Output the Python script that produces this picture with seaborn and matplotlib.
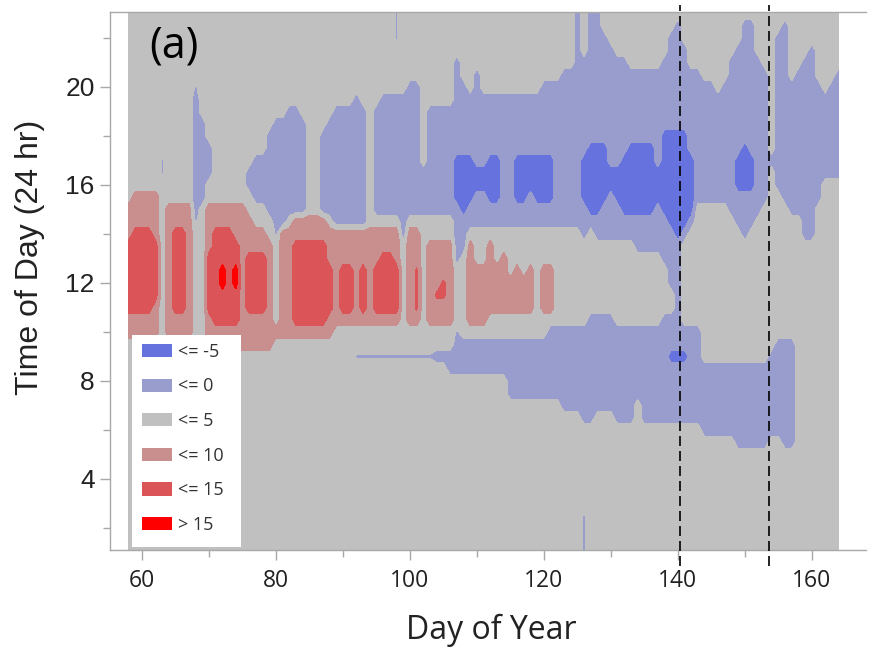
import numpy as np
import matplotlib
matplotlib.use("Agg")
import matplotlib.pyplot as plt
from matplotlib.patches import Patch, Rectangle
import seaborn as sns

# Grid: one column per day of year, one row per half hour
days = np.arange(58, 165)
hours = np.arange(0.5, 23.51, 0.5)

# Contour classes and their representative temperature difference
levels = [-50, -5, 0, 5, 10, 15, 50]
class_labels = ["<= -5", "<= 0", "<= 5", "<= 10", "<= 15", "> 15"]
class_colors = ["#6673de", "#999dce", "#c0c0c0", "#c98f8f", "#da5458", "#ff0000"]
class_values = {"B": -7.5, "b": -2.5, "t": -0.5, ".": 2.5,
                "r": 7.5, "q": 10.8, "R": 12.5, "X": 17.5}

# Per hour row: day spans whose class differs from the "<= 5" background
cells = {
    23.5: "98:t",
    23.0: "98:t 125:b 127-128:b",
    22.5: "98:t 125:b 127-128:b 140:b 150-151:b 156:b",
    22.0: "98:t 125:b 127-129:b 139-140:b 150-151:b 155-156:b",
    21.5: "125:b 127-130:b 139-141:b 149-151:b 155-156:b 160:b",
    21.0: "107:b 125-132:b 138-141:b 148-152:b 155-156:b 159-160:b",
    20.5: "107:b 110:b 123-143:b 148-153:b 155-156:b 158-160:b 164:b",
    20.0: "68:t 100-101:b 107-108:b 110:b 120-145:b 147-153:b 155-161:b 163-164:b",
    19.5: "68:b 92:b 96-101:b 107-153:b 155-164:b",
    19.0: "68:b 82-83:b 89-93:b 95-101:b 103-153:b 155-164:b",
    18.5: "68-69:b 80-84:b 88-93:b 95-101:b 103-153:b 155-164:b",
    18.0: "68-69:b 79-84:b 87-93:b 95-101:b 103-153:b 155-164:b 138-141:B",
    17.5: "68-70:b 79-84:b 87-93:b 95-101:b 103-153:b 155-164:b "
          "127-129:B 133-136:B 138-141:B 150:B",
    17.0: "63:t 68-70:b 77-84:b 87-93:b 95-101:b 103-164:b 107-109:B 112-113:B "
          "116-121:B 126-129:B 132-136:B 138-142:B 149-151:B",
    16.5: "63:t 68-70:b 76-84:b 87-93:b 95-153:b 155-164:b 107-113:B 116-121:B "
          "126-142:B 149-151:B",
    16.0: "68-69:b 76-84:b 87-93:b 95-153:b 155-161:b 107-113:B 116-121:B "
          "126-142:B 149-151:B",
    15.5: "68-69:b 77-84:b 87-93:b 95-153:b 156-161:b 107-109:B 112-113:B "
          "116-117:B 119-121:B 126-129:B 131-142:B 59-62:r",
    15.0: "68:b 79-84:b 87-93:b 95-142:b 148-152:b 157-160:b 108:B 127-128:B "
          "132-136:B 138-142:B 58-62:r 64-67:r 70-75:r",
    14.5: "68:t 80-81:b 89-93:b 99:b 107-142:b 149-151:b 159-160:b 139-141:B "
          "58-62:r 64-67:r 70-76:r 83-87:r",
    14.0: "80:t 99:b 107-108:b 126:b 128-141:b 150:b 159-160:b 140:B "
          "58-62:r 64-67:r 70-78:r 81-98:r 100-101:r 59-61:R 65-66:R 71-73:R",
    13.5: "107-108:b 134-140:b 58-62:r 64-67:r 70-79:r 81-98:r 100-101:r "
          "103-106:r 109:r 112:r 58-62:R 65-66:R 71-74:R 83-87:R",
    13.0: "107:b 138-140:b 58-62:r 64-67:r 70-79:r 81-98:r 100-101:r 103-106:r "
          "109:r 112:r 114:r 58-62:R 65-66:R 70-74:R 76-78:R 83-87:R 96-97:R",
    12.5: "139-140:b 58-62:r 64-67:r 70-79:r 81-98:r 100-101:r 103-106:r "
          "109-114:r 116:r 118:r 120-121:r 58-62:R 65-66:R 70-74:R 76-78:R "
          "83-88:R 90-91:R 93:R 95-98:R 72:X 74:X 101:q",
    12.0: "139-140:b 58-62:r 64-67:r 70-79:r 81-98:r 100-101:r 103-106:r "
          "109-118:r 120-121:r 58-62:R 65-66:R 70-74:R 76-78:R 83-88:R 90-91:R "
          "93:R 95-98:R 72:X 74:X 101:q 105:q",
    11.5: "140:b 58-62:r 64-67:r 70-79:r 81-98:r 100-101:r 103-106:r 109-118:r "
          "120-121:r 58-62:R 65-66:R 70-74:R 76-78:R 83-88:R 90-91:R 93:R "
          "95-98:R 101:q 104-105:q",
    11.0: "140:b 58-62:r 64-67:r 70-79:r 81-98:r 100-101:r 103-106:r 109-118:r "
          "120-121:r 58-61:R 65-66:R 70-74:R 76-78:R 83-88:R 90-91:R 93:R "
          "95-98:R 101:q",
    10.5: "127-130:b 138-140:b 58-62:r 64-67:r 70-79:r 81-98:r 100-101:r "
          "103-106:r 109-111:r 71-74:R 83-87:R",
    10.0: "107:t 121-143:b 58-62:r 64-67:r 70-88:r",
    9.5: "107-143:b 155-157:b 70-79:r",
    9.0: "92-103:t 104-143:b 154-157:b 139-141:B",
    8.5: "106-157:b",
    8.0: "115-157:b",
    7.5: "115-157:b",
    7.0: "123-133:b 135-157:b",
    6.5: "126-127:b 131-133:b 135-157:b",
    6.0: "144-157:b",
    5.5: "149-153:b 156-157:b",
    2.5: "126:t",
    2.0: "126:t",
    1.5: "126:t",
    1.0: "126:t",
    0.5: "126:t",
}

# Reference days marked with dashed lines
event_days = [140.3, 153.6]

# Build the value field from the row specifications
field = np.full((len(hours), len(days)), class_values["."])
for hour, spec in cells.items():
    row = int(round((hour - hours[0]) / 0.5))
    for token in spec.split():
        span, code = token.split(":")
        first, _, last = span.partition("-")
        first = int(first)
        last = int(last) if last else first
        field[row, first - days[0]: last - days[0] + 1] = class_values[code]

sns.set_theme(style="ticks")
plt.rcParams["font.family"] = ["Liberation Sans", "DejaVu Sans"]

fig = plt.figure(figsize=(8.69, 6.52), dpi=100)
ax = fig.add_axes([110 / 869, 102 / 652, 756 / 869, 538 / 652])

ax.contourf(days, hours, field, levels=levels, colors=class_colors)

for d in event_days:
    ax.axvline(d, ymin=-0.03, ymax=1.013, color="black", lw=1.2,
               ls=(0, (6, 3)), clip_on=False, zorder=5)

ax.set_xlim(55.2, 168.1)
ax.set_ylim(1.1, 23.06)
ax.set_xticks(np.arange(60, 161, 20))
ax.set_xticks(np.arange(70, 161, 20), minor=True)
ax.set_yticks(np.arange(4, 21, 4))
ax.set_yticks(np.arange(2, 23, 4), minor=True)

for side in ["left", "bottom", "top"]:
    ax.spines[side].set_color("#a8a8a8")
    ax.spines[side].set_linewidth(1.0)
ax.spines["right"].set_visible(False)

ax.tick_params(axis="both", which="major", length=7, width=1, color="#a8a8a8",
               direction="out")
ax.tick_params(axis="both", which="minor", length=5, width=1, color="#a8a8a8",
               direction="out")
ax.tick_params(axis="y", labelsize=19, pad=4, labelcolor="#222222")
ax.tick_params(axis="x", labelsize=16.5, pad=7, labelcolor="#222222")
for lab in ax.get_xticklabels():
    lab.set_fontfamily(["Open Sans", "DejaVu Sans"])

ax.set_xlabel("Day of Year", fontsize=23, family=["Open Sans", "DejaVu Sans"],
              color="#222222")
ax.xaxis.set_label_coords(0.505, -0.118)
ax.set_ylabel("Time of Day (24 hr)", fontsize=23, color="#222222")
ax.yaxis.set_label_coords(-0.086, 0.543)

ax.text(61.0, 21.65, "(a)", fontsize=31, family=["Open Sans", "DejaVu Sans"],
        va="center", ha="left", color="black")

# White legend panel and class swatches
ax.add_patch(Rectangle((0.0285, 0.0056), 0.1445, 0.3935, transform=ax.transAxes,
                       facecolor="white", edgecolor="none", zorder=6))
handles = [Patch(facecolor=c, edgecolor="none") for c in class_colors]
leg = ax.legend(handles, class_labels, loc="upper left",
                bbox_to_anchor=(0.0419, 0.385), frameon=False,
                handlelength=1.66, handleheight=0.75,
                handletextpad=0.35, labelspacing=0.92, borderpad=0,
                borderaxespad=0, prop={"family": ["Open Sans", "DejaVu Sans"],
                                       "size": 13})
leg.set_zorder(7)
for t in leg.get_texts():
    t.set_color("#333333")

fig.savefig("out.png", dpi=100)
